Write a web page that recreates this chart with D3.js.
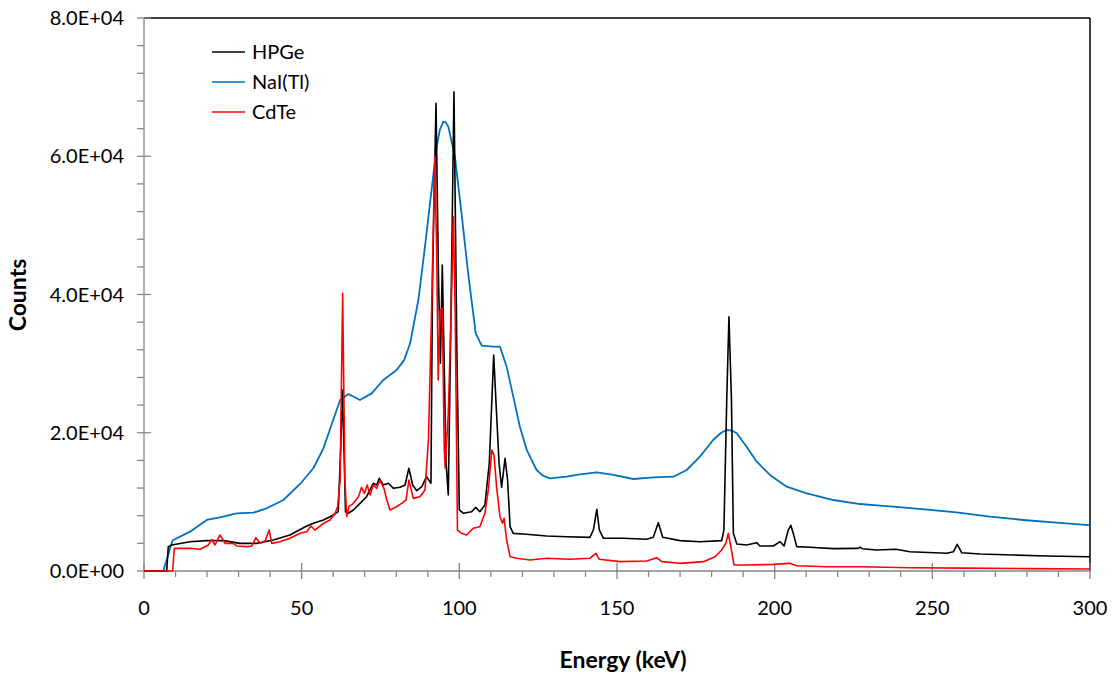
<!DOCTYPE html>
<html><head><meta charset="utf-8">
<script src="https://cdn.jsdelivr.net/npm/d3@7"></script>
<style>body{margin:0;background:#fff}svg{display:block}text{font-family:Lato,"Open Sans",sans-serif}</style>
</head><body><svg id="c" width="1112" height="677"></svg>
<script>
// ---- data (energy keV, counts) ----
const seriesNames = ["HPGe", "NaI(Tl)", "CdTe"];
const seriesColors = ["#000000", "#0070C0", "#FF0000"];
const xTicks = [0, 50, 100, 150, 200, 250, 300];
const yTicks = [0, 20000, 40000, 60000, 80000];
const yTickLabels = ["0.0E+00", "2.0E+04", "4.0E+04", "6.0E+04", "8.0E+04"];

const naiE = [0, 6.1, 9.0, 9.3, 14.6, 19.9, 24.1, 29.4, 34.7, 38.9, 44.2, 49.5, 53.7, 56.9, 60.0, 62.2, 64.8, 68.5, 72.2, 75.9, 80.1, 82.5, 84.4, 87.0, 89.1, 91.2, 92.8, 93.8, 94.9, 95.7, 96.5, 98.6, 100.7, 102.8, 105.2, 107.1, 110.8, 112.9, 115.0, 117.1, 119.2, 121.4, 124.5, 126.5, 128.7, 134.0, 138.3, 143.6, 148.8, 155.2, 161.5, 167.9, 172.1, 176.3, 180.5, 183.0, 184.8, 186.5, 188.0, 191.1, 194.3, 198.5, 203.8, 210.2, 218.6, 227.1, 233.4, 237.6, 244.0, 257.7, 268.3, 278.9, 289.4, 299.5, 300];
const naiC = [0, 0, 4340, 4485, 5690, 7380, 7770, 8340, 8440, 9070, 10270, 12590, 14860, 17750, 21850, 24740, 25600, 24740, 25700, 27630, 29080, 30500, 32940, 39200, 46920, 55120, 61380, 63800, 65000, 64900, 64280, 59940, 51750, 43070, 34390, 32600, 32450, 32450, 29560, 25220, 20880, 17500, 14610, 13800, 13410, 13640, 13990, 14280, 13890, 13310, 13550, 13640, 14610, 16540, 18950, 20000, 20400, 20300, 19920, 17980, 15810, 13890, 12200, 11240, 10270, 9690, 9450, 9300, 9070, 8490, 7860, 7380, 6990, 6650, 6640];

const hpgeE = [0, 7.2, 7.7, 8.8, 14.6, 19.9, 25.2, 30.4, 35.7, 41.0, 46.3, 51.6, 53.7, 56.9, 59.0, 60.0, 61.6, 62.4, 62.9, 63.4, 63.9, 64.8, 66.4, 68.5, 70.6, 72.7, 73.8, 74.6, 75.9, 77.5, 79.1, 81.2, 82.8, 84.0, 85.2, 86.5, 88.1, 89.6, 91.0, 91.5, 92.6, 93.4, 94.0, 94.6, 95.2, 95.8, 96.5, 97.2, 98.3, 99.2, 100.0, 101.3, 103.9, 105.2, 106.5, 108.1, 109.5, 110.9, 111.8, 112.6, 113.4, 114.5, 115.3, 116.1, 117.1, 120.3, 127.7, 134.0, 141.4, 142.5, 143.6, 144.4, 145.7, 152.0, 159.4, 161.5, 163.1, 164.5, 170.0, 176.3, 183.2, 183.9, 184.8, 185.5, 186.3, 186.9, 188.0, 191.1, 194.3, 195.3, 199.6, 201.7, 203.0, 204.3, 205.1, 205.9, 207.0, 211.2, 218.6, 226.5, 227.1, 227.8, 232.3, 238.5, 242.9, 254.6, 256.7, 257.9, 259.3, 265.1, 275.7, 286.3, 299.5, 300];
const hpgeC = [0, 0, 3520, 3760, 4240, 4390, 4390, 4000, 4000, 4485, 5210, 6510, 6900, 7380, 7860, 8100, 8580, 17980, 26190, 17980, 8580, 8350, 8830, 9790, 10750, 12690, 12440, 13410, 12440, 12690, 11960, 12110, 12440, 14860, 12440, 11620, 12200, 13640, 12690, 42100, 67660, 42100, 30050, 44270, 30050, 15580, 10990, 32450, 69340, 32450, 8830, 8350, 8580, 9210, 8580, 9550, 15580, 31250, 22810, 15580, 12110, 16300, 13160, 6410, 5450, 5350, 5060, 4960, 4870, 5930, 8930, 5930, 4730, 4730, 4590, 4870, 6990, 4870, 4390, 4240, 4390, 5930, 24740, 36790, 24740, 5450, 3910, 3760, 4100, 3620, 3620, 4240, 3620, 5930, 6610, 5450, 3520, 3430, 3230, 3280, 3430, 3230, 3040, 3140, 2790, 2560, 2790, 3860, 2650, 2460, 2310, 2170, 2070, 2060];

const cdteE = [0, 9.1, 9.6, 14.6, 17.8, 20.4, 21.5, 22.5, 24.1, 25.7, 28.3, 29.4, 32.6, 34.2, 35.5, 36.8, 38.4, 39.7, 40.5, 43.1, 46.3, 49.5, 51.6, 52.9, 54.2, 56.9, 59.0, 60.6, 61.4, 62.2, 63.0, 63.7, 64.3, 65.0, 66.4, 68.0, 69.0, 69.9, 70.8, 71.7, 72.7, 73.8, 74.8, 76.1, 77.0, 78.0, 80.1, 81.7, 83.1, 84.0, 85.4, 87.5, 89.1, 90.2, 91.2, 92.2, 92.8, 93.3, 93.9, 94.6, 95.2, 95.5, 96.5, 97.4, 98.1, 98.7, 99.4, 100.7, 102.3, 104.4, 106.5, 108.1, 109.2, 110.3, 111.0, 111.8, 112.9, 113.7, 114.2, 115.0, 116.1, 118.2, 122.4, 127.7, 135.1, 141.4, 143.3, 144.4, 151.0, 159.4, 162.6, 164.2, 170.0, 177.4, 181.1, 183.2, 184.5, 185.3, 186.1, 187.1, 191.1, 199.6, 204.8, 207.0, 216.5, 227.1, 242.9, 260.0, 280.0, 300];
const cdteC = [0, 0, 3280, 3280, 3140, 3760, 4580, 3760, 5210, 4000, 4000, 3620, 3520, 3620, 4820, 4000, 4340, 5930, 4000, 4240, 4730, 5450, 5690, 6510, 5930, 6900, 7380, 8350, 9300, 13160, 40180, 13160, 7860, 9300, 9790, 10750, 12110, 11240, 12440, 10990, 12440, 11960, 13160, 11960, 10270, 8830, 9300, 9790, 10270, 13160, 10510, 10750, 11720, 18950, 37280, 59940, 46920, 27630, 37760, 38000, 17980, 14860, 22810, 37280, 51260, 37280, 5930, 5450, 5210, 6180, 6410, 8350, 11720, 17500, 16780, 12200, 7860, 6900, 7620, 4485, 2070, 1840, 1590, 1840, 1690, 1840, 2560, 1690, 1350, 1450, 1930, 1350, 1110, 1350, 2070, 3040, 4000, 5450, 3520, 870, 870, 960, 1110, 770, 620, 620, 480, 420, 350, 300];

// ---- layout ----
const svg = d3.select("#c");
const L = 144, R = 1090, T = 18, B = 571;
const x = d3.scaleLinear().domain([0, 300]).range([L, R]);
const y = d3.scaleLinear().domain([0, 80000]).range([B, T]);
const axisGray = "#868686";

// plot border (top/right black)
svg.append("line").attr("x1", L).attr("x2", R).attr("y1", T).attr("y2", T).attr("stroke", "#000").attr("stroke-width", 1.5);
svg.append("line").attr("x1", R).attr("x2", R).attr("y1", T).attr("y2", B).attr("stroke", "#000").attr("stroke-width", 1.5);

// ticks and axes
const xMinor = d3.range(0, 301, 10).filter(v => v % 50 !== 0);
const yMinor = d3.range(0, 80001, 4000).filter(v => v % 20000 !== 0);
const g = svg.append("g").attr("stroke", axisGray).attr("stroke-width", 1.3);
xMinor.forEach(v => g.append("line").attr("x1", x(v)).attr("x2", x(v)).attr("y1", B).attr("y2", B + 6));
xTicks.forEach(v => g.append("line").attr("x1", x(v)).attr("x2", x(v)).attr("y1", B - 8).attr("y2", B + 8));
yMinor.forEach(v => g.append("line").attr("x1", L - 7).attr("x2", L).attr("y1", y(v)).attr("y2", y(v)));
yTicks.forEach(v => g.append("line").attr("x1", L - 7).attr("x2", L + 7).attr("y1", y(v)).attr("y2", y(v)));
g.append("line").attr("x1", L).attr("x2", L).attr("y1", T).attr("y2", B);
g.append("line").attr("x1", L).attr("x2", R).attr("y1", B).attr("y2", B);

// tick labels
svg.append("g").selectAll("text").data(xTicks).join("text")
  .attr("x", d => x(d)).attr("y", 615).attr("text-anchor", "middle")
  .attr("font-size", 20).attr("fill", "#000").text(d => d);
svg.append("g").selectAll("text").data(yTicks).join("text")
  .attr("x", 124).attr("y", d => y(d) + 7).attr("text-anchor", "end")
  .attr("font-size", 20).attr("fill", "#000").text((d, i) => yTickLabels[i]);

// axis titles
svg.append("text").attr("x", (L + R) / 2 + 6).attr("y", 668).attr("text-anchor", "middle")
  .attr("font-size", 23).attr("font-weight", "bold").text("Energy (keV)");
svg.append("text").attr("transform", "translate(26,295) rotate(-90)").attr("text-anchor", "middle")
  .attr("font-size", 23).attr("font-weight", "bold").text("Counts");

// series
const line = d3.line().x(d => x(d[0])).y(d => y(d[1]));
const data = [
  {E: hpgeE, C: hpgeC, color: seriesColors[0], w: 1.6},
  {E: naiE, C: naiC, color: seriesColors[1], w: 1.8},
  {E: cdteE, C: cdteC, color: seriesColors[2], w: 1.6}
];
svg.append("clipPath").attr("id", "clp").append("rect").attr("x", L).attr("y", T).attr("width", R - L).attr("height", B - T + 1);
[1, 0, 2].forEach(i => {
  const s = data[i];
  svg.append("path").attr("clip-path", "url(#clp)")
    .attr("d", line(s.E.map((e, k) => [e, s.C[k]])))
    .attr("fill", "none").attr("stroke", s.color).attr("stroke-width", s.w).attr("stroke-linejoin", "round");
});

// legend
const lg = svg.append("g");
seriesNames.forEach((n, i) => {
  const yy = 52 + i * 30;
  lg.append("line").attr("x1", 212).attr("x2", 245).attr("y1", yy).attr("y2", yy).attr("stroke", seriesColors[i]).attr("stroke-width", 1.6);
  lg.append("text").attr("x", 252).attr("y", yy + 7).attr("font-size", 20).text(n);
});
</script></body></html>
